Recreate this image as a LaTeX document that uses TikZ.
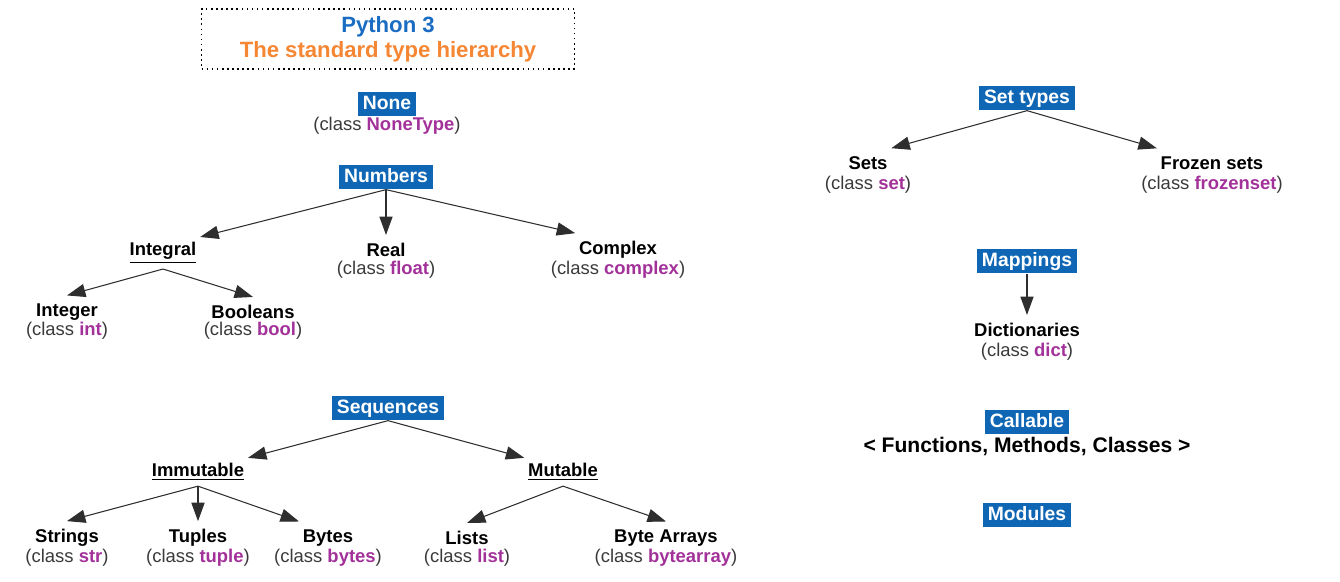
\documentclass[tikz,border=0pt]{standalone}
\usepackage{fontspec}
\setmainfont{Liberation Sans}
\usepackage{tikz}
\usetikzlibrary{arrows.meta}

\definecolor{boxblue}{HTML}{0E66B4}
\definecolor{titleblue}{HTML}{1A6CC2}
\definecolor{titleorange}{HTML}{F58634}
\definecolor{clsmagenta}{HTML}{A2319A}
\definecolor{clsgray}{HTML}{3A3A3A}
\definecolor{edgegray}{HTML}{2E2E2E}

\newcommand{\pycls}[1]{(class \textcolor{clsmagenta}{\bfseries #1})}

\tikzset{
  titlebox/.style={draw, dotted, line width=0.9pt, minimum width=7.46cm,
    minimum height=1.2cm, align=center,
    font=\bfseries\fontsize{12.6}{14.2}\selectfont},
  cat/.style={fill=boxblue, text=white, inner xsep=3pt, inner ysep=1.5pt,
    text height=8.5pt, text depth=2.5pt,
    font=\bfseries\fontsize{11}{13}\selectfont},
  kind/.style={font=\bfseries\fontsize{10.5}{12}\selectfont, text=black,
    inner xsep=2pt, inner ysep=4.5pt},
  sub/.style={kind, inner ysep=3pt},
  cls/.style={font=\fontsize{10.5}{12}\selectfont, text=clsgray, inner sep=1pt},
  arr/.style={draw=edgegray, line width=0.6pt,
    -{Triangle[length=10.5pt,width=7.5pt]}}
}

\begin{document}
\begin{tikzpicture}[x=0.02cm, y=-0.02cm]
  \useasboundingbox (0,0) rectangle (1340,582);
  % title
  \node[titlebox] (title) at (388,39)
    {\textcolor{titleblue}{Python 3}\\\textcolor{titleorange}{The standard type hierarchy}};
  % none
  \node[cat] (none) at (387,104) {None};
  \node[cls] (none-c) at (387,126) {\pycls{NoneType}};
  % numbers
  \node[cat] (numbers) at (386,177) {Numbers};
  \node[sub] (integral) at (163,253) {\underline{Integral}};
  \node[kind] (integer) at (67,312) {Integer};
  \node[cls] (integer-c) at (67,331) {\pycls{int}};
  \node[kind] (booleans) at (253,312) {Booleans};
  \node[cls] (booleans-c) at (253,331) {\pycls{bool}};
  \node[kind] (real) at (386,250) {Real};
  \node[cls] (real-c) at (386,270) {\pycls{float}};
  \node[kind] (complex) at (618,250) {Complex};
  \node[cls] (complex-c) at (618,270) {\pycls{complex}};
  \draw[arr] (numbers.south) -- (integral.north east);
  \draw[arr] (numbers.south) -- (real.north);
  \draw[arr] (numbers.south) -- (complex.north west);
  \draw[arr] (integral.south) -- (integer.north);
  \draw[arr] (integral.south) -- (booleans.north);
  % sequences
  \node[cat] (sequences) at (388,408) {Sequences};
  \node[sub] (immutable) at (198,472) {\underline{Immutable}};
  \node[sub] (mutable) at (563,472) {\underline{Mutable}};
  \node[kind] (strings) at (67,538) {Strings};
  \node[cls] (strings-c) at (67,558) {\pycls{str}};
  \node[kind] (tuples) at (198,538) {Tuples};
  \node[cls] (tuples-c) at (198,558) {\pycls{tuple}};
  \node[kind] (bytes) at (328,538) {Bytes};
  \node[cls] (bytes-c) at (328,558) {\pycls{bytes}};
  \node[kind] (lists) at (467,538) {Lists};
  \node[cls] (lists-c) at (467,558) {\pycls{list}};
  \node[kind] (bytearrays) at (666,538) {Byte Arrays};
  \node[cls] (bytearrays-c) at (666,558) {\pycls{bytearray}};
  \draw[arr] (sequences.south) -- (immutable.north east);
  \draw[arr] (sequences.south) -- (mutable.north west);
  \draw[arr] (immutable.south) -- (strings.north);
  \draw[arr] (immutable.south) -- (tuples.north);
  \draw[arr] (immutable.south) -- (bytes.north west);
  \draw[arr] (mutable.south) -- (lists.north);
  \draw[arr] (mutable.south) -- (bytearrays.north);
  % set types
  \node[cat] (settypes) at (1027,98) {Set types};
  \node[kind] (sets) at (868,163) {Sets};
  \node[cls] (sets-c) at (868,185) {\pycls{set}};
  \node[kind] (frozensets) at (1212,163) {Frozen sets};
  \node[cls] (frozensets-c) at (1212,185) {\pycls{frozenset}};
  \draw[arr] (settypes.south) -- (sets.north east);
  \draw[arr] (settypes.south) -- (frozensets.north west);
  % mappings
  \node[cat] (mappings) at (1027,261) {Mappings};
  \node[kind] (dicts) at (1027,330) {Dictionaries};
  \node[cls] (dicts-c) at (1027,352) {\pycls{dict}};
  \draw[arr] (mappings.south) -- (dicts.north);
  % callable, modules
  \node[cat] (callable) at (1027,422) {Callable};
  \node[font=\bfseries\fontsize{12}{14}\selectfont, inner sep=1pt] (funcs) at (1027,446)
    {< Functions, Methods, Classes >};
  \node[cat] (modules) at (1027,515) {Modules};
\end{tikzpicture}
\end{document}
